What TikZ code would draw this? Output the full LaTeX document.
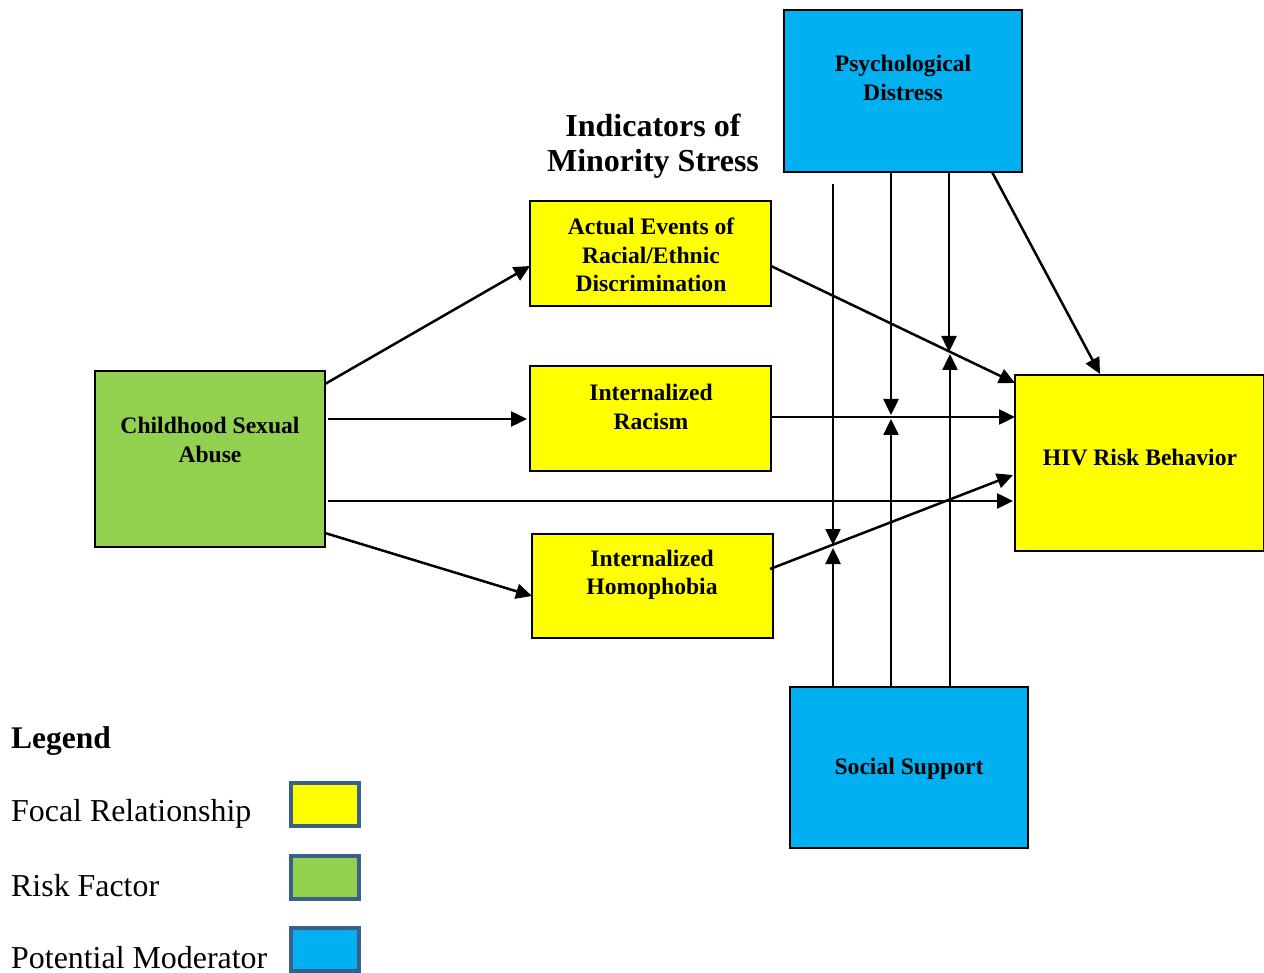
\documentclass[tikz,border=0pt]{standalone}
\usepackage{fontspec}
\setmainfont{Liberation Serif}
\usetikzlibrary{arrows.meta,calc}
\definecolor{fyellow}{HTML}{FFFF00}
\definecolor{fgreen}{HTML}{92D050}
\definecolor{fblue}{HTML}{00B0F0}
\definecolor{lborder}{HTML}{3A5F8B}
\tikzset{
  boxbase/.style={draw=black, line width=1.6pt, anchor=north west, inner sep=0pt, outer sep=0pt},
  ybox/.style={boxbase, fill=fyellow},
  gbox/.style={boxbase, fill=fgreen},
  bbox/.style={boxbase, fill=fblue},
  boxtext/.style={align=center, inner sep=0pt, font=\bfseries\fontsize{23.6}{28.5}\selectfont},
  arr/.style={line width=2.5pt, -{Triangle[length=16pt,width=15pt]}},
  legbox/.style={draw=lborder, line width=4pt, anchor=north west, minimum width=68pt, minimum height=43pt, inner sep=0pt},
  legtext/.style={anchor=west, inner sep=0pt, font=\fontsize{31.9}{36}\selectfont}
}
\begin{document}
\begin{tikzpicture}[x=1pt,y=-1pt]
\useasboundingbox (0,0) rectangle (1264,973);

% boxes
\node[bbox, minimum width=238pt, minimum height=162pt] (pd) at (784,10) {};
\node[bbox, minimum width=238pt, minimum height=161pt] (ss) at (790,687) {};
\node[gbox, minimum width=230pt, minimum height=176pt] (csa) at (95,371) {};
\node[ybox, minimum width=241pt, minimum height=105pt] (act) at (530,201) {};
\node[ybox, minimum width=241pt, minimum height=105pt] (rac) at (530,366) {};
\node[ybox, minimum width=241pt, minimum height=104pt] (hom) at (532,534) {};
\node[ybox, minimum width=249pt, minimum height=176pt] (hiv) at (1015,375) {};

% box texts
\node[boxtext] (tpd) at (903,78) {Psychological\\Distress};
\node[boxtext] (tss) at (909,769) {Social Support};
\node[boxtext] (tcsa) at (210,440) {Childhood Sexual\\Abuse};
\node[boxtext] (tact) at (651,255) {Actual Events of\\Racial/Ethnic\\Discrimination};
\node[boxtext] (trac) at (651,407) {Internalized\\Racism};
\node[boxtext] (thom) at (652,575) {Internalized\\Homophobia};
\node[boxtext] (thiv) at (1140,457) {HIV Risk Behavior};

% title
\node[align=center, inner sep=0pt, font=\bfseries\fontsize{32}{35}\selectfont] (title) at (653,146) {Indicators of\\Minority Stress};

% moderation points
\coordinate (m1d) at (833,545);
\coordinate (m1u) at (833,548);
\coordinate (m2d) at (891,415);
\coordinate (m2u) at (891,419);
\coordinate (m3d) at (949,352);
\coordinate (m3u) at (950,354);

% main paths
\draw[arr] ($(csa.north east)+(0,13)$) -- ($(act.north west)+(0,65)$);
\draw[arr] ($(csa.north east)+(3,48)$) -- ($(rac.north west)+(-3,53)$);
\draw[arr] ($(csa.north east)+(3,130)$) -- ($(hiv.north west)+(-2,126)$);
\draw[arr] ($(csa.north east)+(0,162)$) -- ($(hom.north west)+(0,62)$);
\draw[arr] ($(act.north east)+(0,65)$) -- ($(hiv.north west)+(0,8)$);
\draw[arr] ($(rac.north east)+(0,51)$) -- ($(hiv.north west)+(0,42)$);
\draw[arr] ($(hom.north east)+(-3,35)$) -- ($(hiv.north west)+(-2,100)$);
\draw[arr] ($(pd.south east)+(-30,0)$) -- ($(hiv.north west)+(85,-1)$);

% moderators
\draw[arr] ($(pd.south west)+(49,12)$) -- (m1d);
\draw[arr] (pd.south west -| m2d) -- (m2d);
\draw[arr] (pd.south west -| m3d) -- (m3d);
\draw[arr] (ss.north west -| m1u) -- (m1u);
\draw[arr] (ss.north west -| m2u) -- (m2u);
\draw[arr] (ss.north west -| m3u) -- (m3u);

% legend
\node[anchor=west, inner sep=0pt, font=\bfseries\fontsize{31.5}{36}\selectfont] (leg) at (11,741) {Legend};
\node[legtext] (l1) at (11,814) {Focal Relationship};
\node[legtext] (l2) at (11,886) {Risk Factor};
\node[legtext] (l3) at (11,958) {Potential Moderator};
\node[legbox, fill=fyellow] (lb1) at (289,781) {};
\node[legbox, fill=fgreen] (lb2) at (289,854) {};
\node[legbox, fill=fblue] (lb3) at (289,926) {};
\end{tikzpicture}
\end{document}
